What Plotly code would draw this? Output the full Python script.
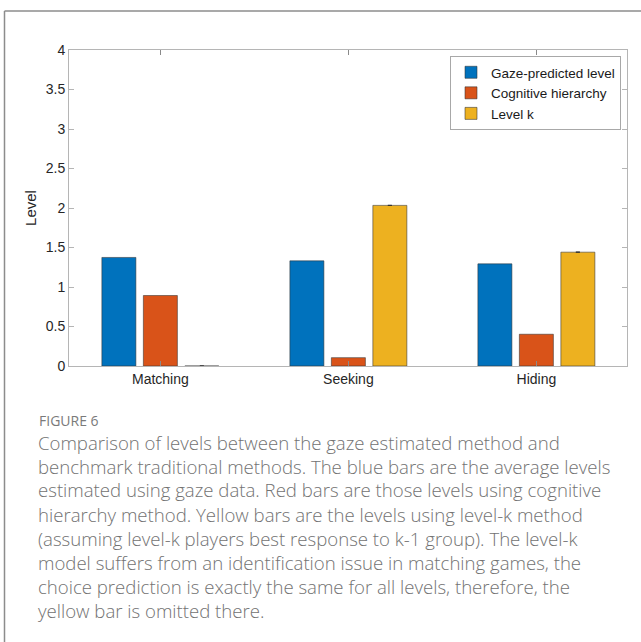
import plotly.graph_objects as go

categories = ["Matching", "Seeking", "Hiding"]
gaze_level = [1.374, 1.331, 1.293]
cognitive_hierarchy = [0.892, 0.106, 0.402]
level_k = [0.0, 2.033, 1.441]
level_k_err = [0.0, 0.0, 0.0]

series_names = ["Gaze-predicted level", "Cognitive hierarchy", "Level k"]
colors = ["#0072BD", "#D95319", "#EDB120"]

caption_title = "FIGURE 6"
caption_lines = [
    "Comparison of levels between the gaze estimated method and",
    "benchmark traditional methods. The blue bars are the average levels",
    "estimated using gaze data. Red bars are those levels using cognitive",
    "hierarchy method. Yellow bars are the levels using level-k method",
    "(assuming level-k players best response to k-1 group). The level-k",
    "model suffers from an identification issue in matching games, the",
    "choice prediction is exactly the same for all levels, therefore, the",
    "yellow bar is omitted there.",
]

W, H = 641, 642
ML, MR, MT, MB = 69, 14, 50, 276
PW, PH = W - ML - MR, H - MT - MB


def px_x(x):
    return (x - ML) / PW


def px_y(y):
    return (H - MB - y) / PH


edge = dict(color="rgba(50,50,50,0.55)", width=1)
fig = go.Figure()
fig.add_trace(go.Bar(x=categories, y=gaze_level, name=series_names[0],
                     marker=dict(color=colors[0], line=edge)))
fig.add_trace(go.Bar(x=categories, y=cognitive_hierarchy, name=series_names[1],
                     marker=dict(color=colors[1], line=edge)))
fig.add_trace(go.Bar(x=categories, y=level_k, name=series_names[2],
                     marker=dict(color=colors[2], line=edge),
                     error_y=dict(type="data", array=level_k_err, visible=True,
                                  color="#333333", thickness=1, width=2)))

axis_line = "#b5b5b5"
fig.update_layout(
    width=W, height=H,
    margin=dict(l=ML, r=MR, t=MT, b=MB),
    paper_bgcolor="white", plot_bgcolor="white",
    barmode="group", bargap=0.338, bargroupgap=0.18,
    font=dict(family="Liberation Sans, Arial, sans-serif", color="#262626"),
    showlegend=True,
    legend=dict(x=px_x(621), y=px_y(56), xanchor="right", yanchor="top",
                bordercolor="#a8a8a8", borderwidth=1, bgcolor="white",
                font=dict(size=13.5, color="#1a1a1a"), tracegroupgap=0,
                itemwidth=30),
    xaxis=dict(range=[-0.486, 2.482], showline=True, linecolor=axis_line,
               linewidth=1, mirror="ticks", ticks="inside", ticklen=5,
               tickcolor="#8a8a8a", showgrid=False, zeroline=False,
               tickfont=dict(size=14, color="#262626")),
    yaxis=dict(range=[0, 4], dtick=0.5, showline=True, linecolor=axis_line,
               linewidth=1, mirror="ticks", ticks="inside", ticklen=5,
               tickcolor=axis_line, showgrid=False, zeroline=False,
               tickfont=dict(size=14, color="#262626"),
               title=dict(text="Level", font=dict(size=15, color="#262626"),
                          standoff=5)),
)

# outer frame (left and top)
fig.add_shape(type="line", xref="paper", yref="paper",
              x0=px_x(4.5), x1=px_x(4.5), y0=px_y(11), y1=px_y(642),
              line=dict(color="#8c8c8c", width=1.5))
fig.add_shape(type="line", xref="paper", yref="paper",
              x0=px_x(4.5), x1=px_x(641), y0=px_y(11), y1=px_y(11),
              line=dict(color="#8c8c8c", width=1.5))

fig.add_annotation(text=caption_title, xref="paper", yref="paper",
                   x=px_x(37), y=px_y(420), xanchor="left", yanchor="middle",
                   showarrow=False,
                   font=dict(family="Open Sans, sans-serif", size=14,
                             color="#7a7a7a", weight=500))
for i, line in enumerate(caption_lines):
    fig.add_annotation(text=line, xref="paper", yref="paper",
                       x=px_x(36), y=px_y(442 + 24 * i), xanchor="left",
                       yanchor="middle", showarrow=False,
                       font=dict(family="Open Sans, sans-serif", size=18.6,
                                 color="#727272", weight=300))

fig.write_html("out.html", config={"displayModeBar": False},
               post_script="document.body.style.margin='0';document.body.style.overflow='hidden';")
